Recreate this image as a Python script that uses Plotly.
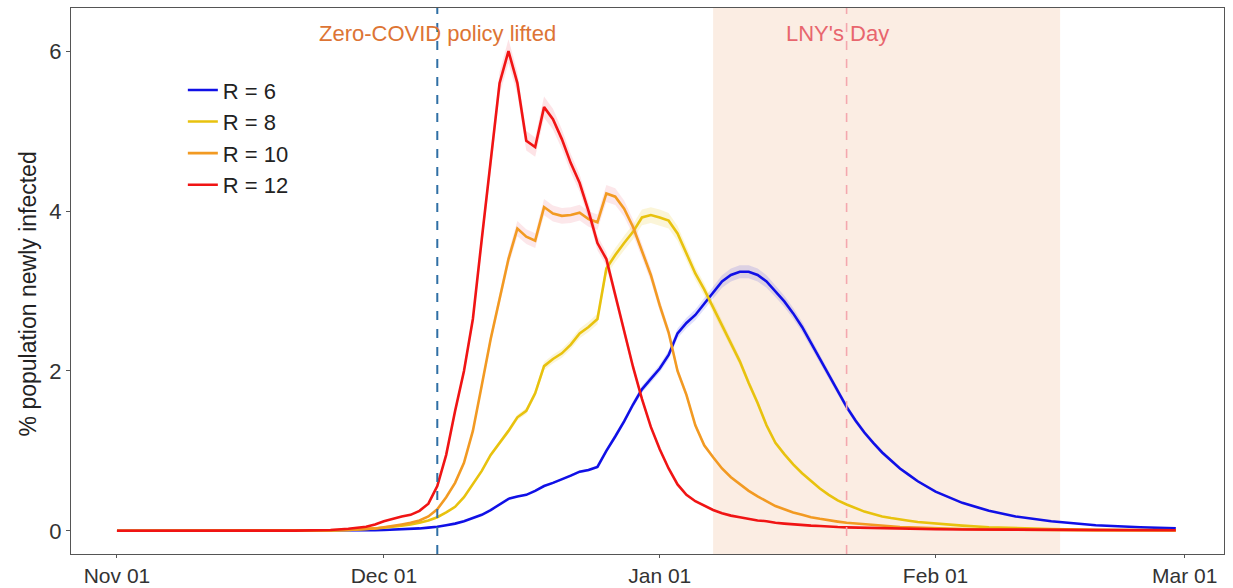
import pandas as pd
import plotly.graph_objects as go

# ---- data ----
start_date = "2022-11-01"
day_offsets = [0, 10, 20, 24, 26,
               28, 29, 30, 31, 32, 33, 34, 35, 36, 37, 38, 39, 40, 41, 42, 43, 44, 45, 46, 47, 48, 49,
               50, 51, 52, 53, 54, 55, 56, 57, 58, 59, 60, 61, 62, 63, 64, 65, 66, 67, 68, 69,
               70, 71, 72, 73, 74, 75, 76, 77, 78, 79, 80, 81, 82, 83, 84, 85, 86, 87, 88, 89, 90,
               92, 95, 98, 101, 105, 110, 115, 119]

r12 = [0, 0, 0.003, 0.01, 0.025,
       0.05, 0.08, 0.12, 0.15, 0.18, 0.2, 0.25, 0.34, 0.56, 0.95, 1.5, 2.0, 2.65, 3.65, 4.6, 5.6, 6.0, 5.6, 4.88, 4.8, 5.3, 5.15,
       4.9, 4.6, 4.35, 4.0, 3.6, 3.4, 2.95, 2.5, 2.05, 1.65, 1.3, 1.02, 0.78, 0.58, 0.45, 0.37, 0.31, 0.26, 0.22, 0.19,
       0.17, 0.15, 0.13, 0.12, 0.1, 0.09, 0.08, 0.07, 0.065, 0.06, 0.05, 0.047, 0.043, 0.04, 0.037, 0.034, 0.031, 0.029, 0.027, 0.025, 0.023,
       0.02, 0.017, 0.015, 0.013, 0.011, 0.01, 0.009, 0.008]

r10 = [0, 0, 0.002, 0.006, 0.012,
       0.02, 0.03, 0.045, 0.06, 0.08, 0.1, 0.13, 0.18, 0.27, 0.42, 0.6, 0.85, 1.25, 1.82, 2.4, 2.9, 3.4, 3.78, 3.68, 3.63, 4.05, 3.97,
       3.94, 3.95, 3.98, 3.9, 3.86, 4.22, 4.18, 4.03, 3.8, 3.5, 3.2, 2.82, 2.48, 2.0, 1.7, 1.32, 1.07, 0.92, 0.78, 0.67,
       0.58, 0.5, 0.43, 0.37, 0.31, 0.27, 0.23, 0.2, 0.17, 0.15, 0.13, 0.115, 0.1, 0.09, 0.08, 0.07, 0.062, 0.055, 0.048, 0.043, 0.038,
       0.03, 0.022, 0.016, 0.012, 0.009, 0.006, 0.005, 0.004]

r8 = [0, 0, 0.002, 0.005, 0.01,
      0.02, 0.03, 0.04, 0.05, 0.065, 0.08, 0.1, 0.13, 0.17, 0.23, 0.3, 0.42, 0.58, 0.75, 0.95, 1.1, 1.25, 1.42, 1.5, 1.72, 2.06, 2.15,
      2.22, 2.33, 2.47, 2.55, 2.65, 3.28, 3.45, 3.6, 3.74, 3.92, 3.95, 3.92, 3.88, 3.72, 3.47, 3.22, 3.02, 2.8, 2.58, 2.35,
      2.12, 1.85, 1.6, 1.32, 1.1, 0.96, 0.83, 0.72, 0.62, 0.53, 0.45, 0.38, 0.33, 0.28, 0.24, 0.21, 0.18, 0.16, 0.14, 0.125, 0.11,
      0.09, 0.065, 0.045, 0.033, 0.022, 0.014, 0.01, 0.008]

r6 = [0, 0, 0.001, 0.002, 0.003,
      0.005, 0.007, 0.01, 0.013, 0.017, 0.022, 0.03, 0.04, 0.05, 0.07, 0.09, 0.12, 0.16, 0.2, 0.26, 0.33, 0.4, 0.43, 0.45, 0.5, 0.56, 0.6,
      0.64, 0.69, 0.74, 0.76, 0.8, 1.0, 1.18, 1.37, 1.58, 1.77, 1.9, 2.03, 2.2, 2.47, 2.6, 2.7, 2.84, 2.98, 3.12, 3.2,
      3.24, 3.24, 3.2, 3.12, 3.0, 2.87, 2.72, 2.55, 2.35, 2.15, 1.95, 1.75, 1.55, 1.38, 1.23, 1.1, 0.98, 0.88, 0.78, 0.7, 0.62,
      0.49, 0.35, 0.25, 0.18, 0.12, 0.07, 0.045, 0.03]

series_names = ["R = 6", "R = 8", "R = 10", "R = 12"]
series_values = [r6, r8, r10, r12]
series_colors = ["#1010E6", "#E8C20E", "#F29A22", "#F01414"]
ribbon_colors = ["rgba(60,60,230,0.16)", "rgba(232,194,14,0.16)", "rgba(240,120,140,0.18)", "rgba(240,80,100,0.16)"]
ci_rel = 0.025

y_ticks = [0, 2, 4, 6]
x_tick_dates = ["2022-11-01", "2022-12-01", "2023-01-01", "2023-02-01", "2023-03-01"]

policy_date = "2022-12-07"
lny_date = "2023-01-22"
chunyun_start, chunyun_end = "2023-01-07", "2023-02-15"

dates = pd.Timestamp(start_date) + pd.to_timedelta(day_offsets, unit="D")

FONT = "Liberation Sans"

fig = go.Figure()

# ribbons
for name, vals, rc in zip(series_names, series_values, ribbon_colors):
    upper = [v * (1 + ci_rel) for v in vals]
    lower = [v * (1 - ci_rel) for v in vals]
    fig.add_trace(go.Scatter(
        x=list(dates) + list(dates[::-1]),
        y=upper + lower[::-1],
        fill="toself", fillcolor=rc, line=dict(width=0),
        hoverinfo="skip", showlegend=False))

# lines
for name, vals, col in zip(series_names, series_values, series_colors):
    fig.add_trace(go.Scatter(
        x=dates, y=vals, mode="lines", name=name,
        line=dict(color=col, width=2.6)))

fig.add_shape(type="rect", xref="x", yref="paper", x0=chunyun_start, x1=chunyun_end,
              y0=0, y1=1, fillcolor="#FBEDE3", line=dict(width=0), layer="below")
fig.add_shape(type="line", xref="x", yref="paper", x0=policy_date, x1=policy_date,
              y0=0, y1=1, line=dict(color="#2F6FA5", width=2, dash="dash"), layer="above")
fig.add_shape(type="line", xref="x", yref="paper", x0=lny_date, x1=lny_date,
              y0=0, y1=1, line=dict(color="#F4A7AE", width=1.6, dash="dash"), layer="above")

fig.add_annotation(x=policy_date, y=6.22, text="Zero-COVID policy lifted", showarrow=False,
                   font=dict(size=22, color="#DD7434", family=FONT))
fig.add_annotation(x="2023-01-21", y=6.22, text="LNY's Day", showarrow=False,
                   font=dict(size=22, color="#E8666E", family=FONT))
# y-axis title
fig.add_annotation(xref="paper", yref="paper", x=-0.037, y=0.476, text="% population newly infected",
                   textangle=-90, showarrow=False, xanchor="center", yanchor="middle",
                   font=dict(size=23, color="#222222", family=FONT))

axis_common = dict(showline=True, mirror=True, linecolor="#555555", linewidth=1.2,
                   ticks="outside", tickcolor="#555555", showgrid=False, zeroline=False,
                   automargin=False)

fig.update_layout(
    width=1233, height=588,
    margin=dict(l=71, r=9, t=8, b=34),
    paper_bgcolor="white", plot_bgcolor="white",
    font=dict(family=FONT, color="#222222"),
    xaxis=dict(range=["2022-10-26 20:00", "2023-03-05 10:00"],
               tickvals=x_tick_dates, tickformat="%b %d", ticklen=3,
               tickfont=dict(size=21, color="#333333", family=FONT), **axis_common),
    yaxis=dict(range=[-0.29, 6.54], tickvals=y_ticks, ticklen=4,
               tickfont=dict(size=22, color="#333333", family=FONT), **axis_common),
    legend=dict(x=0.097, y=0.888, xanchor="left", yanchor="top",
                bgcolor="rgba(255,255,255,0)", font=dict(size=22, color="#222222"),
                itemwidth=30),
    showlegend=True,
)

fig.write_html("out.html", config={"displayModeBar": False},
               post_script="document.body.style.margin='0';document.body.style.overflow='hidden';")
